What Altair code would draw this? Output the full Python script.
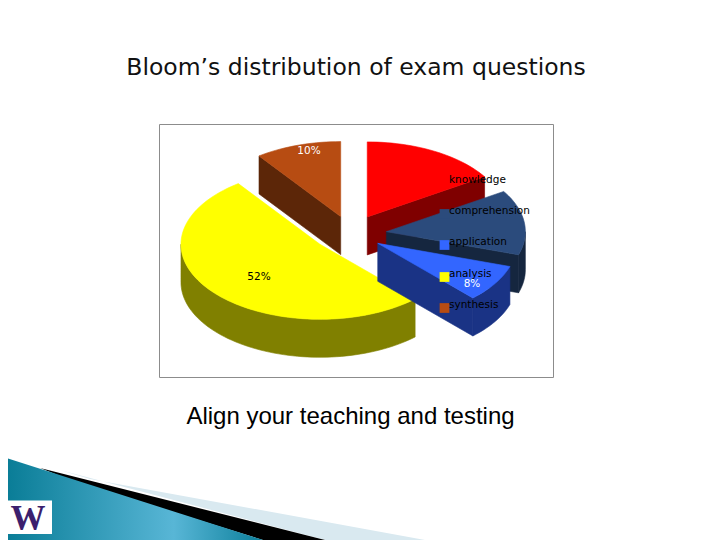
import math
import altair as alt

categories = ["knowledge", "comprehension", "application", "analysis", "synthesis"]
values = [16, 14, 8, 52, 10]
top_colors = ["#ff0000", "#2b4b7c", "#3366ff", "#ffff00", "#b74c12"]
side_colors = ["#7f0000", "#15263f", "#1a3385", "#808000", "#5c2608"]
value_labels = ["", "", "8%", "52%", "10%"]
label_colors = ["#ffffff", "#ffffff", "#ffffff", "#000000", "#ffffff"]
title_text = "Bloom\u2019s distribution of exam questions"
subtitle_text = "Align your teaching and testing"

W, H = 704, 532
OX, OY = 8, 8  # page margin
CX, CY, RX, RY, DEPTH = 350.5, 234.0, 139.0, 75.0, 38.0
explode_x = [0.25, 0.26, 0.232, 0.285, 0.228]
explode_y = [0.26, 0.25, 0.232, 0.215, 0.244]


def pt(c, a, fx=1.0, fy=1.0, dz=0.0):
    r = math.radians(a)
    return [c[0] + fx * RX * math.sin(r), c[1] - fy * RY * math.cos(r) + dz]


def poly(points, fill):
    ring = [[p[0] - OX, p[1] - OY] for p in points]
    ring.append(ring[0])
    return {"type": "Feature", "properties": {"fill": fill},
            "geometry": {"type": "Polygon", "coordinates": [ring]}}


def arc(c, a0, a1, dz=0.0):
    n = max(2, int(abs(a1 - a0) / 2))
    return [pt(c, a0 + (a1 - a0) * i / n, dz=dz) for i in range(n + 1)]


slices = []
start = 0.0
for cat, v, tc, sc, ex, ey in zip(categories, values, top_colors, side_colors, explode_x, explode_y):
    end = start + v * 3.6
    mid = (start + end) / 2
    centre = pt((CX, CY), mid, ex, ey)
    slices.append(dict(cat=cat, a0=start, a1=end, c=centre, top=tc, side=sc))
    start = end


def solid(s):
    c, a0, a1 = s["c"], s["a0"], s["a1"]
    out = []
    lo, hi = max(a0, 90), min(a1, 270)
    if a1 <= 180:
        p, q = c, pt(c, a1)
        out.append(poly([p, q, [q[0], q[1] + DEPTH], [p[0], p[1] + DEPTH]], s["side"]))
    if a0 >= 180:
        p, q = c, pt(c, a0)
        out.append(poly([p, q, [q[0], q[1] + DEPTH], [p[0], p[1] + DEPTH]], s["side"]))
    if lo < hi:
        out.append(poly(arc(c, lo, hi) + arc(c, hi, lo, DEPTH), s["side"]))
    out.append(poly([c] + arc(c, a0, a1), s["top"]))
    return out


frame_feat = [poly([[159.5, 124.5], [553.5, 124.5], [553.5, 377.5], [159.5, 377.5]], "#ffffff")]
pie_features = []
for i in [0, 4, 1, 3, 2]:
    pie_features += solid(slices[i])

frame = alt.Chart(alt.Data(values=frame_feat)).mark_geoshape(
    fill="#ffffff", stroke="#8c8c8c", strokeWidth=1).project(type="identity", scale=1, translate=[0, 0])

pie = alt.Chart(alt.Data(values=pie_features)).mark_geoshape(strokeWidth=0.6).encode(
    fill=alt.Fill("properties.fill:N", scale=None),
    stroke=alt.Stroke("properties.fill:N", scale=None),
).project(type="identity", scale=1, translate=[0, 0])


def band(points, fill):
    return alt.Chart(alt.Data(values=[poly(points, "x")])).mark_geoshape(
        fill=fill, strokeWidth=0).project(type="identity", scale=1, translate=[0, 0])


teal = {"gradient": "linear", "x1": 0, "y1": 0, "x2": 1, "y2": 0,
        "stops": [{"offset": 0, "color": "#0a7d97"}, {"offset": 0.65, "color": "#58b6d6"},
                  {"offset": 1, "color": "#0c7f9b"}]}
deco = [
    band([[90, 479], [425, 540], [325, 540], [60, 470]], "#d9e9f0"),
    band([[40, 468], [325, 540], [263, 540], [75, 482]], "#000000"),
    band([[8, 458.5], [263, 540], [8, 540]], teal),
    band([[8, 500.5], [52, 500.5], [52, 534], [8, 534]], "#ffffff"),
]


def text_layer(rows, **kw):
    return alt.Chart(alt.Data(values=rows)).mark_text(**kw).encode(
        x=alt.X("x:Q", scale=None), y=alt.Y("y:Q", scale=None), text="t:N")


def at(x, y, t):
    return {"x": x - OX, "y": y - OY, "t": t}


legend_y = [180, 211, 242, 274, 305]
swatches = alt.Chart(alt.Data(values=[
    dict(at(444.5, y + 3, c), fill=f) for y, c, f in zip(legend_y, categories, top_colors)
])).mark_square(size=95, opacity=1, filled=True).encode(
    x=alt.X("x:Q", scale=None), y=alt.Y("y:Q", scale=None), fill=alt.Fill("fill:N", scale=None))

legend_text = text_layer([at(449, y, c) for y, c in zip(legend_y, categories)],
                         align="left", baseline="middle", font="DejaVu Sans", fontSize=10.5, color="#000000")

pct_pos = [None, None, (472, 284), (259, 277), (309, 151)]
pct = [alt.Chart(alt.Data(values=[dict(at(p[0], p[1], l), c=col)])).mark_text(
    align="center", baseline="middle", font="DejaVu Sans", fontSize=10.5).encode(
    x=alt.X("x:Q", scale=None), y=alt.Y("y:Q", scale=None), text="t:N", color=alt.Color("c:N", scale=None))
    for p, l, col in zip(pct_pos, value_labels, label_colors) if p]

title = text_layer([at(356, 75, title_text)], align="center", baseline="alphabetic",
                   font="DejaVu Sans", fontSize=23.5, color="#111111")
sub = text_layer([at(350.5, 424, subtitle_text)], align="center", baseline="alphabetic",
                 font="Liberation Sans", fontSize=24, color="#000000")
logo = text_layer([at(28, 529.5, "W")], align="center", baseline="alphabetic",
                  font="Liberation Serif", fontSize=35, fontWeight="bold", color="#3b1f6e")

chart = alt.layer(frame, pie, *deco, swatches, legend_text, *pct, title, sub, logo).properties(
    width=W, height=H, padding=0
).configure_view(stroke=None)

chart.save("out.html", embed_options={"renderer": "svg", "actions": False})
